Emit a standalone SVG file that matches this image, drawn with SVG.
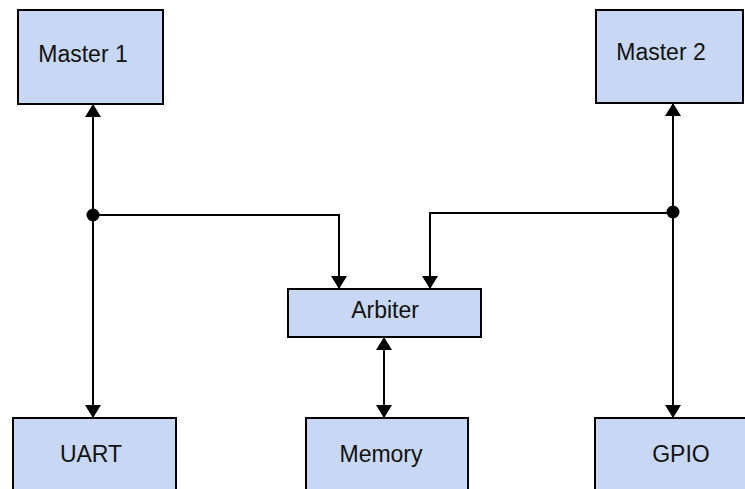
<svg xmlns="http://www.w3.org/2000/svg" width="745" height="489" viewBox="0 0 745 489">
<defs>
<style>
.box{fill:#c8d8f4;stroke:#000;stroke-width:2}
.lbl{font-family:"Liberation Sans",Arial,sans-serif;font-size:23px;fill:#111}
.ln{fill:none;stroke:#000;stroke-width:2}
</style>
<marker id="ah" viewBox="0 0 13 16" refX="13" refY="8" markerWidth="13" markerHeight="16" markerUnits="userSpaceOnUse" orient="auto-start-reverse">
<path d="M0,0 L13,8 L0,16 Z" fill="#000"/>
</marker>
</defs>
<rect width="745" height="489" fill="#fff"/>
<g id="master1"><rect class="box" x="18" y="10" width="145" height="94"/><text class="lbl" x="83" y="62" text-anchor="middle">Master 1</text></g>
<g id="master2"><rect class="box" x="596" y="10" width="147" height="93"/><text class="lbl" x="661" y="60" text-anchor="middle">Master 2</text></g>
<g id="arbiter"><rect class="box" x="288" y="289" width="193" height="48"/><text class="lbl" x="385" y="318" text-anchor="middle">Arbiter</text></g>
<g id="uart"><rect class="box" x="13" y="418" width="163" height="90"/><text class="lbl" x="91" y="462" text-anchor="middle">UART</text></g>
<g id="memory"><rect class="box" x="306" y="418" width="162" height="90"/><text class="lbl" x="381" y="462" text-anchor="middle">Memory</text></g>
<g id="gpio"><rect class="box" x="595" y="418" width="160" height="90"/><text class="lbl" x="681" y="462" text-anchor="middle">GPIO</text></g>
<g id="connectors">
<path class="ln" d="M93,215 L93,104" marker-end="url(#ah)"/>
<path class="ln" d="M93,215 L93,418" marker-end="url(#ah)"/>
<path class="ln" d="M93,215 L339,215 L339,289" marker-end="url(#ah)"/>
<path class="ln" d="M673,212 L673,103" marker-end="url(#ah)"/>
<path class="ln" d="M673,212 L673,418" marker-end="url(#ah)"/>
<path class="ln" d="M673,213 L430,213 L430,289" marker-end="url(#ah)"/>
<path class="ln" d="M384,337 L384,418" marker-start="url(#ah)" marker-end="url(#ah)"/>
<circle cx="93" cy="215" r="6.5" fill="#000"/>
<circle cx="673" cy="212" r="6.5" fill="#000"/>
</g>
</svg>
